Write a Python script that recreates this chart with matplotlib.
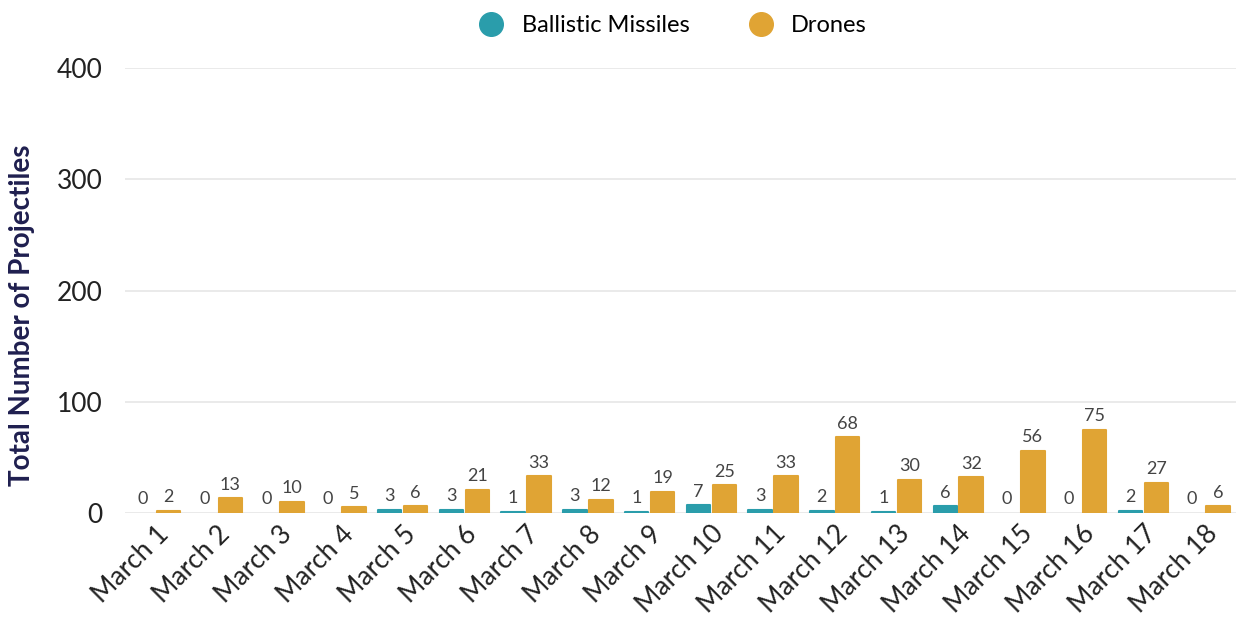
# Daily projectiles launched, ballistic missiles vs drones

import matplotlib.pyplot as plt
import numpy as np

plt.rcParams['font.family'] = ['Lato', 'DejaVu Sans']

days = ['March %d' % d for d in range(1, 19)]
ballistic = [0, 0, 0, 0, 3, 3, 1, 3, 1, 7, 3, 2, 1, 6, 0, 0, 2, 0]
drones = [2, 13, 10, 5, 6, 21, 33, 12, 19, 25, 33, 68, 30, 32, 56, 75, 27, 6]
yticks = [0, 100, 200, 300, 400]

teal = '#2a9dab'
gold = '#e0a434'

fig = plt.figure(figsize=(12.36, 6.27), dpi=100)
ax = fig.add_axes([0.101, 0.182, 0.899, 0.709])

x = np.arange(len(days))
w = 0.38
b1 = ax.bar(x - w / 2 - 0.02, ballistic, w, color=teal, edgecolor=teal,
            linewidth=[1.5 if v else 0 for v in ballistic], joinstyle='round',
            label='Ballistic Missiles', zorder=3)
b2 = ax.bar(x + w / 2 + 0.02, drones, w, color=gold, edgecolor=gold,
            linewidth=1.5, joinstyle='round', label='Drones', zorder=3)
ax.bar_label(b1, padding=4, fontsize=13, color='#444444')
ax.bar_label(b2, padding=4, fontsize=13, color='#444444')

ax.set_xlim(-0.5, len(days) - 0.5)
ax.set_ylim(0, 400)
ax.set_yticks(yticks)
ax.set_xticks(x)
ax.set_xticklabels(days, rotation=45, ha='right', rotation_mode='anchor', fontsize=19)
ax.tick_params(axis='y', labelsize=19, length=0, pad=16, labelcolor='#222222')
ax.tick_params(axis='x', length=0, pad=6, labelcolor='#222222')
ax.grid(axis='y', color='#e6e6e6', linewidth=1.2, zorder=0)
for s in ax.spines.values():
    s.set_visible(False)

ax.set_ylabel('Total Number of Projectiles', fontsize=20, fontweight='bold',
              color='#1f1f4f')
ax.yaxis.set_label_coords(-0.081, 0.445)

fig.legend(handles=[
    plt.Line2D([], [], marker='o', linestyle='', markersize=17, color=teal, label='Ballistic Missiles'),
    plt.Line2D([], [], marker='o', linestyle='', markersize=17, color=gold, label='Drones')],
    loc='upper center', bbox_to_anchor=(0.54, 1.01), ncol=2, frameon=False,
    fontsize=17, handletextpad=0.3, columnspacing=2.0)

fig.savefig('out.png', dpi=100)
